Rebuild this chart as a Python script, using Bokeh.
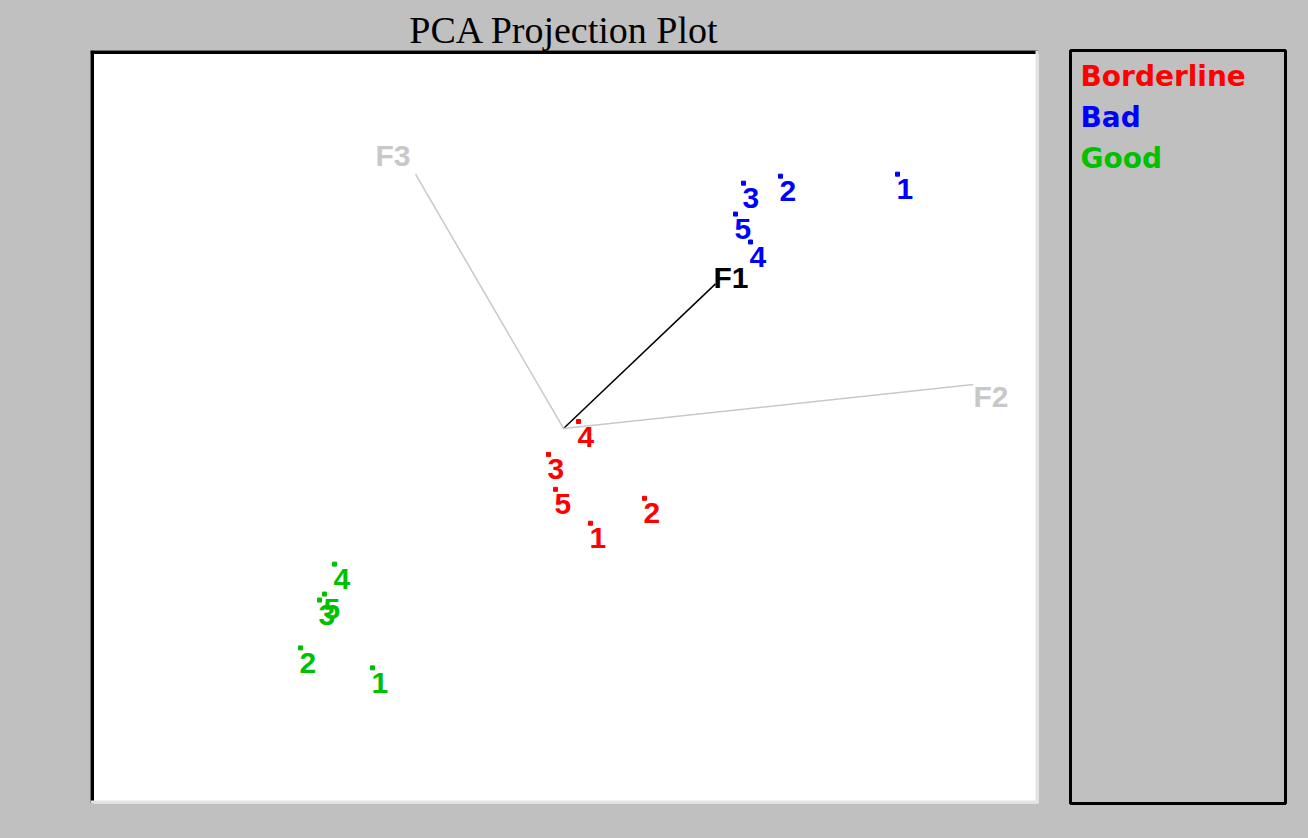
from bokeh.plotting import figure
from bokeh.models import ColumnDataSource, Range1d, Span
from bokeh.layouts import row
from bokeh.core.properties import value
from bokeh.embed import file_html
from bokeh.resources import INLINE

# Projected scores of the three groups on the first two display directions
sample_ids = ["1", "2", "3", "4", "5"]

borderline_x = [0.27, 0.81, -0.15, 0.15, -0.08]
borderline_y = [-0.95, -0.70, -0.26, 0.07, -0.61]

bad_x = [3.34, 2.17, 1.80, 1.87, 1.72]
bad_y = [2.55, 2.53, 2.46, 1.87, 2.15]

good_x = [-1.91, -2.63, -2.44, -2.29, -2.39]
good_y = [-2.40, -2.20, -1.72, -1.36, -1.66]

# Factor axes (projected unit vectors)
factor_names = ["F1", "F2", "F3"]
factor_x = [1.52, 4.10, -1.48]
factor_y = [1.45, 0.44, 2.55]

group_names = ["Borderline", "Bad", "Good"]
group_colors = ["#FF0000", "#0000FF", "#00C000"]

PANEL = "#C0C0C0"
AXIS_GREY = "#C8C8C8"

X_RANGE = (-4.73, 4.75)
Y_RANGE = (-3.76, 3.79)

p = figure(
    width=1052, height=838,
    x_range=Range1d(*X_RANGE), y_range=Range1d(*Y_RANGE),
    x_axis_type=None, y_axis_type=None,
    output_backend="svg", toolbar_location=None,
    min_border_left=90, min_border_right=14,
    min_border_top=48, min_border_bottom=35,
    title="PCA Projection Plot",
)
p.grid.visible = False
p.background_fill_color = "white"
p.border_fill_color = PANEL
p.outline_line_color = None
p.title.align = "center"
p.title.text_font = "Liberation Serif"
p.title.text_font_style = "normal"
p.title.text_font_size = "38px"
p.title.text_color = "#000000"
p.title.standoff = 0

# sunken frame: dark upper/left edge, light lower/right edge
p.add_layout(Span(location=X_RANGE[0], dimension="height", line_color="#000000", line_width=7))
p.add_layout(Span(location=Y_RANGE[1], dimension="width", line_color="#000000", line_width=7))
p.add_layout(Span(location=X_RANGE[1], dimension="height", line_color="#E4E4E4", line_width=6))
p.add_layout(Span(location=Y_RANGE[0], dimension="width", line_color="#E4E4E4", line_width=6))

# factor axes from the origin
axis_colors = ["#000000", AXIS_GREY, AXIS_GREY]
axis_label_dx = [-2, 0, -40]
axis_label_dy = [-6, 12, -19]
axes_src = ColumnDataSource(dict(
    x0=[0.0] * 3, y0=[0.0] * 3, x1=factor_x, y1=factor_y,
    name=factor_names, color=axis_colors, dx=axis_label_dx, dy=axis_label_dy,
))
p.segment(x0="x0", y0="y0", x1="x1", y1="y1", source=axes_src,
          line_color="color", line_width=1.5)
p.text(x="x1", y="y1", text="name", source=axes_src,
       x_offset="dx", y_offset="dy", text_color="color",
       text_font=value("Liberation Sans"), text_font_style="bold",
       text_font_size="30px", text_baseline="alphabetic", text_align="left")

# sample points with their index labels
for xs, ys, color in zip([borderline_x, bad_x, good_x],
                         [borderline_y, bad_y, good_y], group_colors):
    src = ColumnDataSource(dict(x=xs, y=ys, label=sample_ids))
    p.scatter(x="x", y="y", source=src, marker="square", size=4,
              fill_color=color, line_color=color)
    p.text(x="x", y="y", text="label", source=src,
           x_offset=-1, y_offset=15, text_color=color,
           text_font=value("Liberation Sans"), text_font_style="bold",
           text_font_size="30px", text_baseline="alphabetic", text_align="left")

# legend panel
leg = figure(
    width=256, height=838,
    x_range=Range1d(0, 1), y_range=Range1d(17.51, -0.902),
    x_axis_type=None, y_axis_type=None,
    output_backend="svg", toolbar_location=None,
    min_border_left=18, min_border_right=23,
    min_border_top=50, min_border_bottom=33,
)
leg.grid.visible = False
leg.background_fill_color = PANEL
leg.border_fill_color = PANEL
leg.outline_line_color = "#000000"
leg.outline_line_width = 3
leg_src = ColumnDataSource(dict(x=[0.0] * 3, y=list(range(len(group_names))),
                                name=group_names, color=group_colors))
leg.text(x="x", y="y", text="name", source=leg_src, x_offset=10, y_offset=-11,
         text_color="color", text_font=value("DejaVu Sans"),
         text_font_style="bold", text_font_size="28px",
         text_baseline="alphabetic", text_align="left")

layout = row(p, leg, styles={"background-color": PANEL})
open("out.html", "w").write(file_html(layout, INLINE))
